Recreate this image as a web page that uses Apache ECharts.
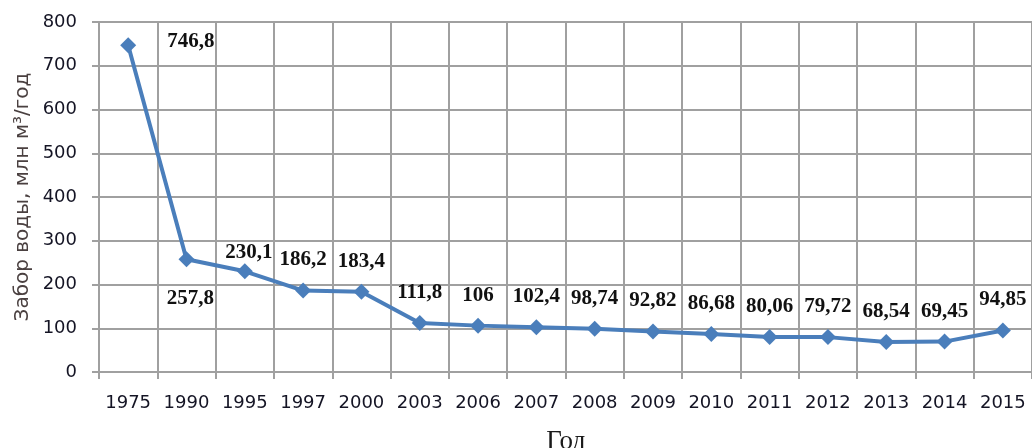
<!DOCTYPE html>
<html lang="ru">
<head>
    <meta charset="UTF-8">
    <script type="text/javascript" src="https://cdn.jsdelivr.net/npm/echarts@6/dist/echarts.min.js"></script>
    <style>
        html, body { margin: 0; padding: 0; background: #fff; }
        #main { width: 1032px; height: 448px; }
    </style>
</head>
<body>
    <div id="main"></div>

    <script type="text/javascript">
        // данные
        var years = ['1975', '1990', '1995', '1997', '2000', '2003', '2006', '2007',
                     '2008', '2009', '2010', '2011', '2012', '2013', '2014', '2015'];
        var intake = [746.8, 257.8, 230.1, 186.2, 183.4, 111.8, 106, 102.4,
                      98.74, 92.82, 86.68, 80.06, 79.72, 68.54, 69.45, 94.85];
        var yTicks = [0, 100, 200, 300, 400, 500, 600, 700, 800];

        var lineColor = '#4a7ebb';
        var gridColor = '#a0a0a0';

        // подписи стоят по-разному, как в исходнике
        function labelFor(i) {
            var base = {
                show: true,
                position: 'top',
                distance: 12,
                fontFamily: '"Liberation Serif", "Times New Roman", serif',
                fontWeight: 'bold',
                fontSize: 21,
                color: '#111',
                formatter: function (p) {
                    return String(p.value).replace('.', ',');
                }
            };
            if (i === 0) {
                base.position = 'right';
                base.distance = 31;
                base.offset = [0, -4];
            } else if (i === 1) {
                base.position = 'bottom';
                base.distance = 21;
                base.offset = [4, 0];
            } else if (i === 2) {
                base.distance = 0;
                base.offset = [4, 0];
            }
            return base;
        }

        var seriesData = intake.map(function (v, i) {
            return { value: v, label: labelFor(i) };
        });

        var myChart = echarts.init(document.getElementById('main'));
        var option = {
            animation: false,
            backgroundColor: '#fff',
            grid: {
                left: 99,
                top: 22,
                width: 937,
                height: 350
            },
            xAxis: {
                type: 'category',
                data: years,
                boundaryGap: true,
                axisLine: { show: true, lineStyle: { color: gridColor, width: 2 } },
                axisTick: { show: true, interval: 0, length: 7, lineStyle: { color: gridColor, width: 2 } },
                splitLine: { show: true, interval: 0, lineStyle: { color: gridColor, width: 2 } },
                axisLabel: {
                    interval: 0,
                    hideOverlap: false,
                    margin: 22,
                    fontFamily: '"DejaVu Sans", Verdana, sans-serif',
                    fontSize: 18,
                    color: '#141424'
                }
            },
            yAxis: {
                type: 'value',
                min: yTicks[0],
                max: yTicks[yTicks.length - 1],
                interval: yTicks[1] - yTicks[0],
                axisLine: { show: true, lineStyle: { color: gridColor, width: 2 } },
                axisTick: { show: true, length: 7, lineStyle: { color: gridColor, width: 2 } },
                splitLine: { show: true, lineStyle: { color: gridColor, width: 2 } },
                axisLabel: {
                    margin: 22,
                    fontFamily: '"DejaVu Sans", Verdana, sans-serif',
                    fontSize: 18,
                    color: '#141424'
                }
            },
            graphic: [
                {
                    type: 'text',
                    x: 23,
                    y: 197,
                    rotation: Math.PI / 2,
                    style: {
                        text: 'Забор воды, млн м³/год',
                        fontFamily: '"DejaVu Sans", Verdana, sans-serif',
                        fontSize: 20,
                        fill: '#4a4040',
                        align: 'center',
                        verticalAlign: 'middle'
                    }
                },
                {
                    type: 'text',
                    x: 566,
                    y: 442,
                    style: {
                        text: 'Год',
                        fontFamily: '"Liberation Serif", "Times New Roman", serif',
                        fontSize: 27,
                        fill: '#1a1a1a',
                        align: 'center',
                        verticalAlign: 'middle'
                    }
                }
            ],
            series: [
                {
                    name: 'Забор воды',
                    type: 'line',
                    data: seriesData,
                    symbol: 'diamond',
                    symbolSize: 16,
                    lineStyle: { color: lineColor, width: 4 },
                    itemStyle: { color: lineColor }
                }
            ]
        };
        myChart.setOption(option);
    </script>
</body>
</html>
